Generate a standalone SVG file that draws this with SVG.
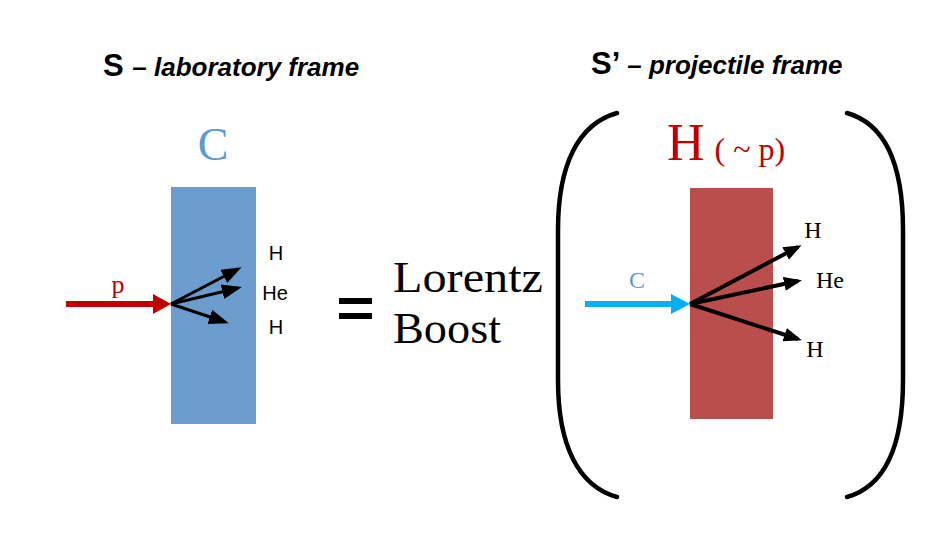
<svg xmlns="http://www.w3.org/2000/svg" width="944" height="538" viewBox="0 0 944 538">
  <style>
    .title { font-family: "Liberation Sans", Arial, sans-serif; font-weight: bold; fill: #000; }
    .title .sub { font-style: italic; font-size: 26px; }
    .serif { font-family: "Liberation Serif", "Times New Roman", serif; }
    .sans { font-family: "Liberation Sans", Arial, sans-serif; }
    .ray { stroke: #000; fill: none; }
  </style>
  <defs>
    <marker id="headS" markerUnits="userSpaceOnUse" markerWidth="20" markerHeight="16" refX="16" refY="7.5" orient="auto">
      <path d="M0,0 L20,7.5 L0,15 Z" fill="#000"/>
    </marker>
    <marker id="headR" markerUnits="userSpaceOnUse" markerWidth="18" markerHeight="15" refX="14" refY="7" orient="auto">
      <path d="M0,0 L18,7 L0,14 Z" fill="#000"/>
    </marker>
  </defs>

  <rect width="944" height="538" fill="#fff"/>

  <!-- Frame titles -->
  <g id="title-lab">
    <text class="title" x="103" y="76" font-size="31">S <tspan class="sub">– laboratory frame</tspan></text>
  </g>
  <g id="title-proj">
    <text class="title" x="591" y="74" font-size="31">S’ <tspan class="sub">– projectile frame</tspan></text>
  </g>

  <!-- Laboratory frame: carbon target hit by a proton -->
  <g id="target-c">
    <rect x="171" y="187" width="85" height="237" fill="#6c9cce"/>
    <text class="serif" x="213" y="160" font-size="46" fill="#5b9bd5" text-anchor="middle">C</text>
  </g>
  <g id="beam-p">
    <text class="serif" x="118" y="293" font-size="26" fill="#c00000" text-anchor="middle">p</text>
  </g>
  <g id="labels-lab" class="sans" font-size="20" fill="#000">
    <text x="276" y="260" text-anchor="middle">H</text>
    <text x="275" y="300" text-anchor="middle">He</text>
    <text x="276" y="334" text-anchor="middle">H</text>
  </g>

  <!-- Equivalence -->
  <g id="equals">
    <rect x="339" y="298" width="33" height="6" fill="#000"/>
    <rect x="339" y="313" width="33" height="6" fill="#000"/>
    <text class="serif" x="393" y="292" font-size="45" textLength="150" lengthAdjust="spacingAndGlyphs">Lorentz</text>
    <text class="serif" x="393" y="343" font-size="45" textLength="108" lengthAdjust="spacingAndGlyphs">Boost</text>
  </g>

  <!-- Projectile frame -->
  <g id="brackets" fill="none" stroke="#000" stroke-width="4.5" stroke-linecap="round">
    <path d="M617,113 C578,124 558,165 558,230 L558,380 C558,445 578,486 617,497"/>
    <path d="M847,113 C886,124 903,165 903,230 L903,380 C903,445 886,486 847,497"/>
  </g>
  <g id="target-h">
    <rect x="690" y="188" width="83" height="231" fill="#b94e4c"/>
    <text class="serif" x="667" y="160" font-size="52" fill="#c00000">H<tspan font-size="32" dx="10">( ~ p)</tspan></text>
  </g>
  <g id="beam-c">
    <text class="serif" x="637" y="288" font-size="24" fill="#5b9bd5" text-anchor="middle">C</text>
  </g>
  <g id="labels-proj" class="serif" font-size="24" fill="#000">
    <text x="813" y="238" text-anchor="middle">H</text>
    <text x="816" y="288">He</text>
    <text x="815" y="357" text-anchor="middle">H</text>
  </g>

  <!-- Connectors -->
  <g id="connectors">
    <!-- incoming proton -->
    <line x1="66" y1="304" x2="156" y2="304" stroke="#c00000" stroke-width="6"/>
    <path d="M153,294 L171,304 L153,314 Z" fill="#c00000"/>
    <!-- lab-frame fragments -->
    <line class="ray" x1="171" y1="304" x2="238" y2="269" stroke-width="3" marker-end="url(#headS)"/>
    <line class="ray" x1="171" y1="304" x2="238" y2="288" stroke-width="3" marker-end="url(#headS)"/>
    <line class="ray" x1="171" y1="304" x2="225" y2="322" stroke-width="3" marker-end="url(#headS)"/>
    <!-- incoming carbon -->
    <line x1="585" y1="304" x2="674" y2="304" stroke="#00b0f0" stroke-width="6"/>
    <path d="M671,294 L690,304 L671,314 Z" fill="#00b0f0"/>
    <!-- projectile-frame fragments -->
    <line class="ray" x1="690" y1="304" x2="798" y2="247" stroke-width="4" marker-end="url(#headR)"/>
    <line class="ray" x1="690" y1="304" x2="798" y2="281" stroke-width="4" marker-end="url(#headR)"/>
    <line class="ray" x1="690" y1="304" x2="798" y2="339" stroke-width="4" marker-end="url(#headR)"/>
  </g>
</svg>
